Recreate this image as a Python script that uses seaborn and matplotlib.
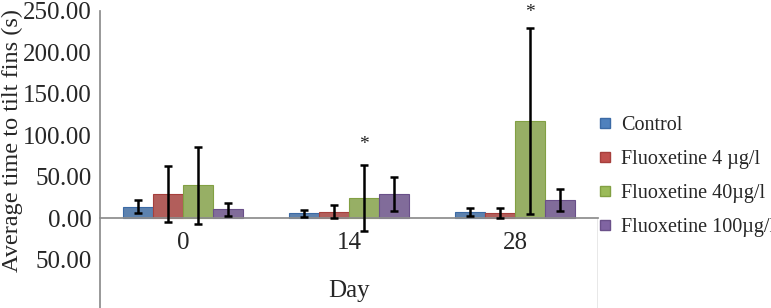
import matplotlib
matplotlib.use("Agg")
import matplotlib.pyplot as plt
import seaborn as sns
import pandas as pd
from matplotlib.ticker import FuncFormatter
from matplotlib.lines import Line2D

# --- data ---
days = ["0", "14", "28"]
groups = ["Control", "Fluoxetine 4 \u00b5g/l", "Fluoxetine 40\u00b5g/l", "Fluoxetine 100\u00b5g/l"]
control = [14.0, 6.0, 8.0]
fluo_4 = [29.5, 8.0, 6.0]
fluo_40 = [40.0, 24.5, 117.5]
fluo_100 = [11.0, 29.0, 22.0]
control_err = [8.0, 4.2, 5.0]
fluo_4_err = [34.0, 7.5, 6.0]
fluo_40_err = [46.5, 40.0, 112.0]
fluo_100_err = [8.0, 20.5, 13.5]
star_y = [None, 89.0, 248.0]   # asterisks above Fluoxetine 40 bars

colors = ["#4F81BD", "#C0504D", "#9BBB59", "#8064A2"]
edges = ["#3B6AA5", "#A63F3C", "#82A043", "#6A5089"]
axis_grey = "#8C8C8C"

means = [control, fluo_4, fluo_40, fluo_100]
errs = [control_err, fluo_4_err, fluo_40_err, fluo_100_err]
df = pd.DataFrame({
    "Day": [d for g in groups for d in days],
    "Group": [g for g in groups for d in days],
    "Time": [v for m in means for v in m],
})

sns.set_theme(style="white")
plt.rcParams["font.family"] = ["Liberation Serif", "DejaVu Serif"]

fig = plt.figure(figsize=(7.71, 3.08), dpi=100)
ax = fig.add_axes([100 / 771, 0.0, 498 / 771, 1.0])

sns.barplot(data=df, x="Day", y="Time", hue="Group", order=days, hue_order=groups,
            palette=colors, width=0.72, errorbar=None, ax=ax, legend=False)

# per-bar edge colour + error bars
bar_containers = list(ax.containers)
for i, cont in enumerate(bar_containers):
    xs = []
    for bar in cont.patches:
        bar.set_edgecolor(edges[i])
        bar.set_linewidth(0.8)
        xs.append(bar.get_x() + bar.get_width() / 2)
    ax.errorbar(xs, means[i], yerr=errs[i], fmt="none", ecolor="black",
                elinewidth=1.8, capsize=3.2, capthick=1.8, zorder=5)
    if i == 2:
        for x, s in zip(xs, star_y):
            if s is not None:
                ax.text(x, s, "*", ha="center", va="center", fontsize=14, color="#222222")

ax.set_xlim(-0.5, 2.5)
ax.set_ylim(-108, 263)

# spines
for side in ["top", "right"]:
    ax.spines[side].set_visible(False)
ax.spines["left"].set_color(axis_grey)
ax.spines["left"].set_bounds(-108, 250)
ax.spines["bottom"].set_color(axis_grey)
ax.spines["bottom"].set_position(("data", 0))

# y ticks
ax.set_yticks(range(-50, 251, 50))
ax.yaxis.set_major_formatter(FuncFormatter(lambda v, p: f"{abs(v):.2f}"))
ax.tick_params(axis="y", which="major", direction="out", length=5, width=1,
               color=axis_grey, labelsize=18, pad=1)

# x ticks: labels at categories, long separator ticks between them
ax.set_xticks(range(len(days)))
ax.set_xticklabels(days)
ax.set_xticks([0.5, 1.5], minor=True)
ax.tick_params(axis="x", which="major", length=0, labelsize=18, pad=10)
ax.tick_params(axis="x", which="minor", direction="out", length=32, width=1, color=axis_grey)
ax.axvline(2.5, ymin=0, ymax=108 / 371, color=axis_grey, lw=1)

ax.set_xlabel("Day", fontsize=18)
ax.xaxis.set_label_coords(0.5, 0.09)
ax.set_ylabel("Average time to tilt fins (s)", fontsize=17.5)
ax.yaxis.set_label_coords(-0.155, 0.545)

# legend
handles = [Line2D([0], [0], marker="s", linestyle="none", markersize=7,
                  markerfacecolor=c, markeredgecolor=e) for c, e in zip(colors, edges)]
fig.legend(handles, groups, loc="upper left", bbox_to_anchor=(577 / 771, 1 - 98 / 308),
           frameon=False, fontsize=14.5, handletextpad=0.3, labelspacing=0.74,
           handlelength=1.0)

fig.savefig("out.png", dpi=100)
